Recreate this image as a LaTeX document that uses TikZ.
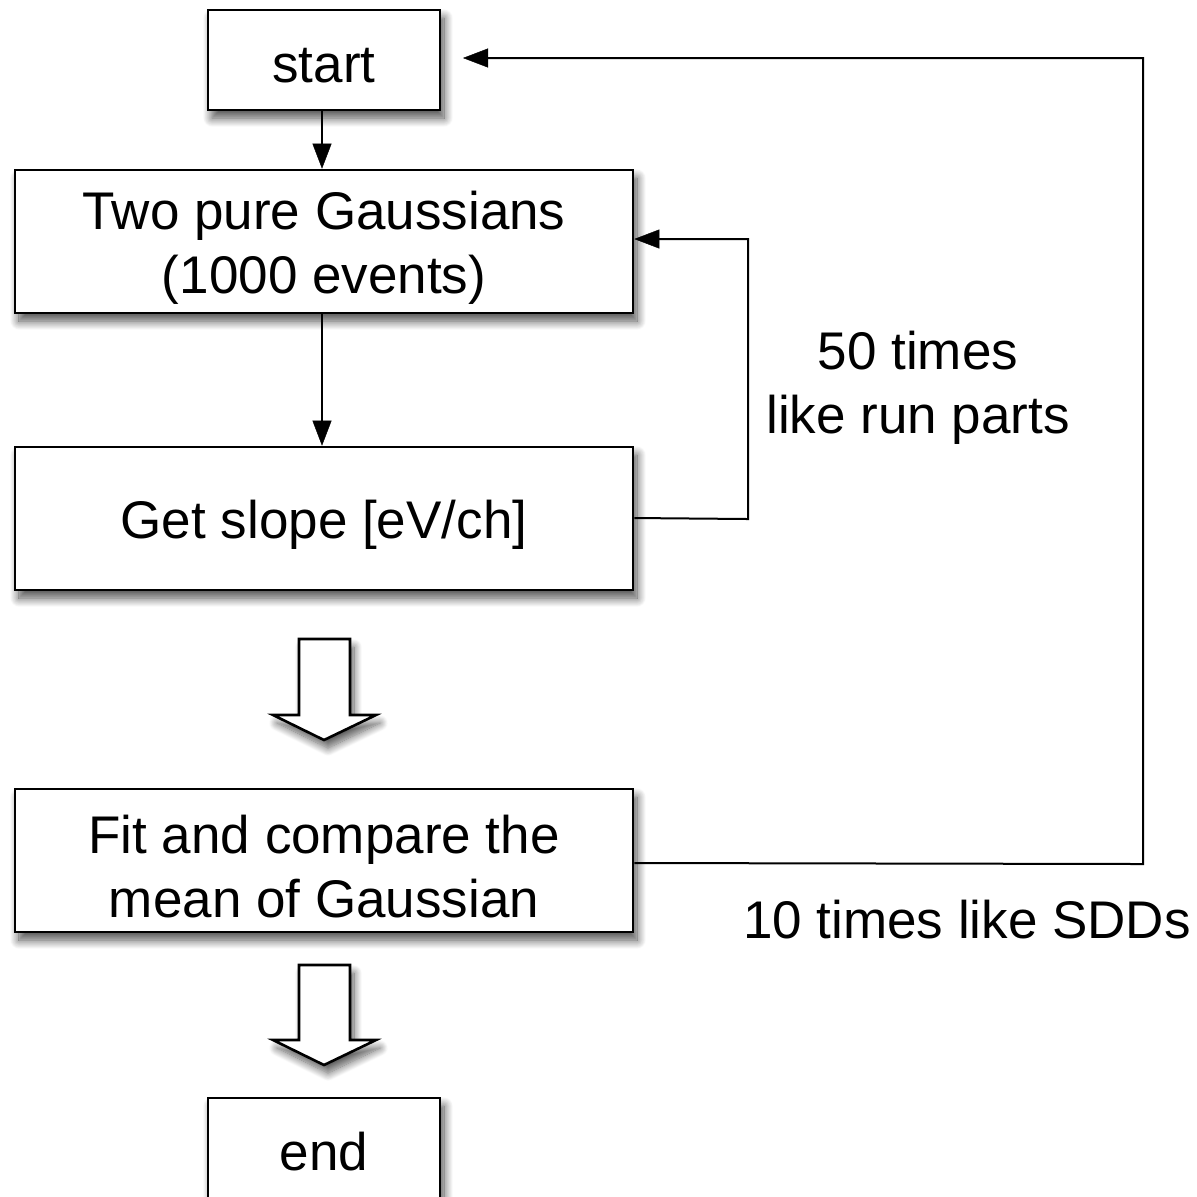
\documentclass[tikz,border=0pt]{standalone}
\usepackage{fontspec}
\setmainfont{Liberation Sans}
\usetikzlibrary{shadows.blur,arrows.meta}
\begin{document}
\begin{tikzpicture}[x=0.5pt,y=-0.5pt,
  box/.style={draw=black,line width=1.3pt,fill=white,rectangle,inner sep=0pt,
    blur shadow={shadow xshift=2pt,shadow yshift=-4pt,shadow blur steps=14,shadow blur radius=4.5pt,shadow opacity=70}},
  txt/.style={font=\fontsize{26.5}{32}\selectfont,align=center,inner sep=0pt},
  lbl/.style={font=\fontsize{26.5}{32}\selectfont,align=center,inner sep=0pt},
  conn/.style={draw=black,line width=1pt,-{Triangle[length=12.5pt,width=9.5pt,fill=black,line width=0.2pt]}},
  blockarrow/.style={draw=black,line width=1.3pt,fill=white,line join=miter,
    blur shadow={shadow xshift=2pt,shadow yshift=-4pt,shadow blur steps=12,shadow blur radius=4pt,shadow opacity=65}}]
\useasboundingbox (0,0) rectangle (1197,1196);
\node[box,minimum width=116pt,minimum height=50pt] (start) at (324,60) {};
\node[txt] (start-t) at ([yshift=-3pt]start.center) {start};
\node[box,minimum width=309pt,minimum height=71.5pt] (gauss) at (324,241.5) {};
\node[txt] (gauss-t) at ([yshift=-3pt]gauss.center) {Two pure Gaussians\\(1000 events)};
\node[box,minimum width=309pt,minimum height=71.5pt] (slope) at (324,518.5) {};
\node[txt] (slope-t) at ([yshift=-3pt]slope.center) {Get slope [eV/ch]};
\node[box,minimum width=309pt,minimum height=71.5pt] (fit) at (324,860.5) {};
\node[txt] (fit-t) at ([yshift=-3pt]fit.center) {Fit and compare the\\mean of Gaussian};
\node[box,minimum width=116pt,minimum height=52pt] (end) at (324,1150) {};
\node[txt] (end-t) at (324,1152) {end};
% block arrows
\draw[blockarrow] (299,639) -- (350,639) -- (350,715) -- (376,715) -- (324,740) -- (273,715) -- (299,715) -- cycle;
\draw[blockarrow] (299,965) -- (350,965) -- (350,1040) -- (376,1040) -- (324,1065) -- (273,1040) -- (299,1040) -- cycle;
% connectors
\draw[conn] (start.south -| 322,0) -- (gauss.north -| 322,0);
\draw[conn] (gauss.south -| 322,0) -- (slope.north -| 322,0);
\coordinate (l1) at (748,519);
\coordinate (l2) at (748,239);
\draw[conn] (slope.east |- 0,518) -- (l1) -- (l2) -- (gauss.east |- 0,239);
\coordinate (b1) at (1143,864);
\coordinate (b2) at (1143,58);
\coordinate (b3) at (463,58);
\draw[conn] (fit.east |- 0,863) -- (b1) -- (b2) -- (b3);
\node[lbl] (lab50) at (918,388) {50 times\\like run parts};
\node[lbl] (lab10) at (967,920) {10 times like SDDs};
\end{tikzpicture}
\end{document}
